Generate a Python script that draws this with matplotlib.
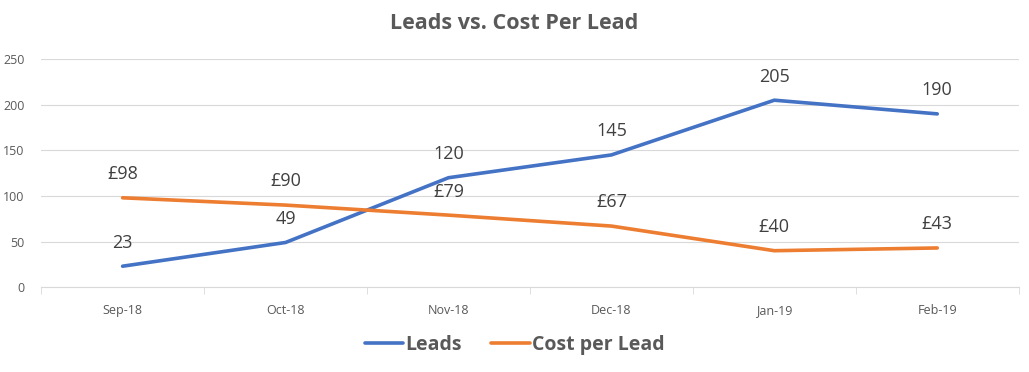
import matplotlib.pyplot as plt

months = ["Sep-18", "Oct-18", "Nov-18", "Dec-18", "Jan-19", "Feb-19"]
leads = [23, 49, 120, 145, 205, 190]
cost_per_lead = [98, 90, 79, 67, 40, 43]

plt.rcParams['font.family'] = ['Open Sans', 'DejaVu Sans']
grey = '#595959'

fig = plt.figure(figsize=(10.29, 3.72), dpi=100)
ax = fig.add_axes([0.040, 0.228, 0.950, 0.613])

x = range(len(months))
ax.plot(x, leads, color='#4472C4', lw=2.6, label='Leads', solid_capstyle='round')
ax.plot(x, cost_per_lead, color='#ED7D31', lw=2.6, label='Cost per Lead', solid_capstyle='round')

for i, v in enumerate(leads):
    ax.annotate(str(v), (i, v), xytext=(0, 17), textcoords='offset points',
                ha='center', va='center', fontsize=13, color='#404040')
for i, v in enumerate(cost_per_lead):
    ax.annotate('£%d' % v, (i, v), xytext=(0, 17), textcoords='offset points',
                ha='center', va='center', fontsize=13, color='#404040')

ax.set_xlim(-0.5, len(months) - 0.5)
ax.set_ylim(0, 250)
ax.set_yticks(range(0, 251, 50))
ax.set_xticks(list(x))
ax.set_xticklabels(months)
ax.set_xticks([i - 0.5 for i in range(len(months) + 1)], minor=True)
ax.tick_params(axis='x', which='major', length=0, pad=12, labelsize=9, labelcolor=grey)
ax.tick_params(axis='x', which='minor', length=5, color='#d9d9d9', direction='out')
ax.tick_params(axis='y', length=0, labelsize=9, labelcolor=grey, pad=12)
ax.grid(axis='y', color='#d9d9d9', lw=0.8)
ax.set_axisbelow(True)
for s in ['top', 'right', 'left']:
    ax.spines[s].set_visible(False)
ax.spines['bottom'].set_color('#d9d9d9')

fig.suptitle('Leads vs. Cost Per Lead', y=0.965, fontsize=15.5, fontweight='bold', color=grey)

leg = fig.legend(loc='center', bbox_to_anchor=(0.5, 0.072), ncol=2, frameon=False,
                 prop={'size': 14, 'weight': 'bold'}, handlelength=2.0,
                 handletextpad=0.1, columnspacing=1.5)
for t in leg.get_texts():
    t.set_color(grey)

fig.savefig('out.png', dpi=100)
